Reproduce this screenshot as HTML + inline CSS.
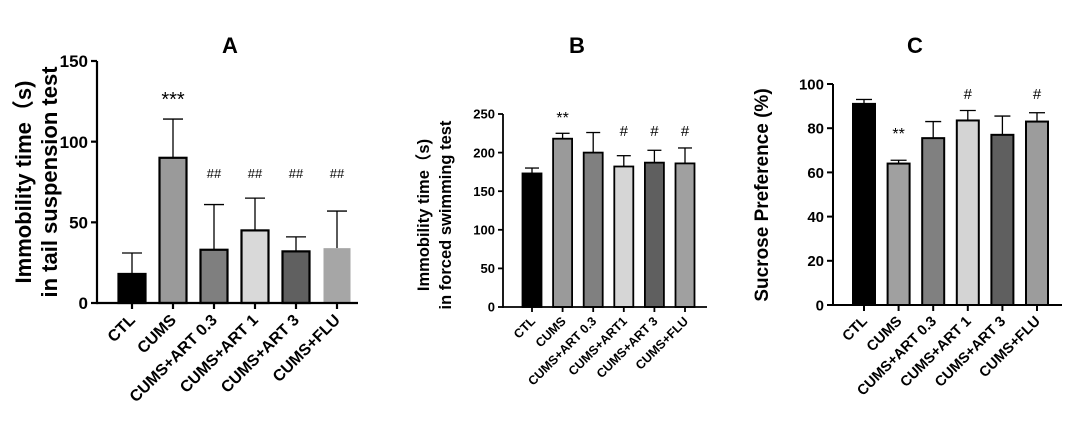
<!DOCTYPE html>
<html><head><meta charset="utf-8"><style>
body{margin:0;background:#fff;}
svg{display:block;font-family:"Liberation Sans","Noto Sans CJK SC",sans-serif;font-weight:bold;}
</style></head><body>
<svg id="chart" width="1065" height="424" viewBox="0 0 1065 424"></svg>
<script>
const categoriesA = ["CTL","CUMS","CUMS+ART 0.3","CUMS+ART 1","CUMS+ART 3","CUMS+FLU"];
const categoriesB = ["CTL","CUMS","CUMS+ART 0.3","CUMS+ART1","CUMS+ART 3","CUMS+FLU"];
const categoriesC = ["CTL","CUMS","CUMS+ART 0.3","CUMS+ART 1","CUMS+ART 3","CUMS+FLU"];
const meansA = [18,90,33,45,32,34];
const errsA = [13,24,28,20,9,23];
const marksA = ["","***","##","##","##","##"];
const ticksA = [0,50,100,150];
const meansB = [173,218,200,182,187,186];
const errsB = [7,7,26,14,16,20];
const marksB = ["","**","","#","#","#"];
const ticksB = [0,50,100,150,200,250];
const meansC = [91,64,75.5,83.5,77,83];
const errsC = [2,1.5,7.5,4.5,8.5,4];
const marksC = ["","**","","#","","#"];
const ticksC = [0,20,40,60,80,100];

const NS="http://www.w3.org/2000/svg";
const svg=document.getElementById('chart');
function mk(tag,attrs,parent,text){const e=document.createElementNS(NS,tag);for(const k in attrs)e.setAttribute(k,attrs[k]);if(text!==undefined)e.textContent=text;(parent||svg).appendChild(e);return e;}

function panel(cfg,cats,means,errs,marks,ticks){
  const g=mk('g',{});
  
  
  const ymax=ticks[ticks.length-1];
  const y=v=>cfg.y0-(v/ymax)*(cfg.y0-cfg.yTop);
  const x=i=>cfg.x1+i*cfg.step;
  const lw=cfg.lw;
  cats.forEach((c,i)=>{
    const top=y(means[i]+errs[i]);
    const e=mk('line',{x1:x(i),x2:x(i),y1:y(means[i]),y2:top,stroke:'#000','stroke-width':1.3},g);
    
    
    const cap=mk('line',{x1:x(i)-cfg.cap,x2:x(i)+cfg.cap,y1:top,y2:top,stroke:'#000','stroke-width':1.3},g);
    
    
    const noBorder=cfg.noBorder&&cfg.noBorder[i];
    const r=mk('rect',{x:x(i)-cfg.bw/2,y:y(means[i]),width:cfg.bw,height:cfg.y0-y(means[i]),fill:cfg.colors[i],stroke:noBorder?'none':'#000','stroke-width':lw},g);
    
    
    if(marks[i]){
      const isStar=marks[i].includes('*');
      const t=mk('text',{x:x(i),y:isStar?cfg.starY:cfg.hashY,'text-anchor':'middle','font-size':isStar?cfg.starSize:cfg.hashSize,'font-weight':'normal'},g,marks[i]);
      
      
    }
    const tk=mk('line',{x1:x(i),x2:x(i),y1:cfg.y0,y2:cfg.y0+cfg.tick,stroke:'#000','stroke-width':lw},g);
    
    
    const lx=x(i)+4, ly=cfg.y0+cfg.tick+cfg.lblOff;
    const lb=mk('text',{x:lx,y:ly,'text-anchor':'end','font-size':cfg.xfs,transform:`rotate(-45 ${lx} ${ly})`},g,c);
    
    
  });
  const ya=mk('line',{x1:cfg.ax,x2:cfg.ax,y1:cfg.yTop,y2:cfg.y0+lw/2,stroke:'#000','stroke-width':lw},g);
  
  
  const xa=mk('line',{x1:cfg.ax,x2:cfg.xEnd,y1:cfg.y0,y2:cfg.y0,stroke:'#000','stroke-width':lw},g);
  
  
  ticks.forEach(t=>{
    const l=mk('line',{x1:cfg.ax-cfg.tick,x2:cfg.ax,y1:y(t),y2:y(t),stroke:'#000','stroke-width':lw},g);
    
    
    const tl=mk('text',{x:cfg.ax-cfg.tick-3,y:y(t)+cfg.yfs*0.36,'text-anchor':'end','font-size':cfg.yfs},g,String(t));
    
    
  });
  cfg.ytitle.forEach((line,k)=>{
    const tx=cfg.ytx[k], ty=cfg.yty;
    const t=mk('text',{x:tx,y:ty,'text-anchor':'middle','font-size':cfg.ytfs,transform:`rotate(-90 ${tx} ${ty})`},g,line);
    
    
  });
  const pt=mk('text',{x:cfg.titleX,y:53,'text-anchor':'middle','font-size':22},g,cfg.title);
  
  
}

panel({name:'panel-a',title:'A',titleX:230,ax:97,xEnd:358,y0:303,yTop:61,x1:132,step:41,bw:27,cap:10,lw:2.2,tick:6,
  colors:['#000','#9a9a9a','#7f7f7f','#d9d9d9','#606060','#a6a6a6'],noBorder:[0,0,0,0,0,1],
  starY:106,starSize:20,hashY:178,hashSize:13,xfs:16,lblOff:12,yfs:17,
  ytitle:['Immobility time（s)','in tail suspension test'],ytx:[31,57],yty:182,ytfs:22},categoriesA,meansA,errsA,marksA,ticksA);

panel({name:'panel-b',title:'B',titleX:577,ax:503,xEnd:707,y0:307,yTop:114,x1:532,step:30.6,bw:19,cap:7,lw:1.8,tick:5,
  colors:['#000','#9a9a9a','#808080','#d6d6d6','#5f5f5f','#a0a0a0'],
  starY:123,starSize:16,hashY:136,hashSize:15,xfs:12.5,lblOff:10,yfs:13,
  ytitle:['Immobility time（s)','in forced swimming test'],ytx:[429,451],yty:215,ytfs:16.5},categoriesB,meansB,errsB,marksB,ticksB);

panel({name:'panel-c',title:'C',titleX:915,ax:833,xEnd:1062,y0:305,yTop:84,x1:864,step:34.6,bw:22,cap:8,lw:2,tick:6,
  colors:['#000','#a0a0a0','#808080','#d4d4d4','#5f5f5f','#9c9c9c'],
  starY:139,starSize:16,hashY:99,hashSize:15,xfs:14.5,lblOff:11,yfs:15,
  ytitle:['Sucrose Preference (%)'],ytx:[768],yty:195,ytfs:19},categoriesC,meansC,errsC,marksC,ticksC);
</script>
</body></html>
